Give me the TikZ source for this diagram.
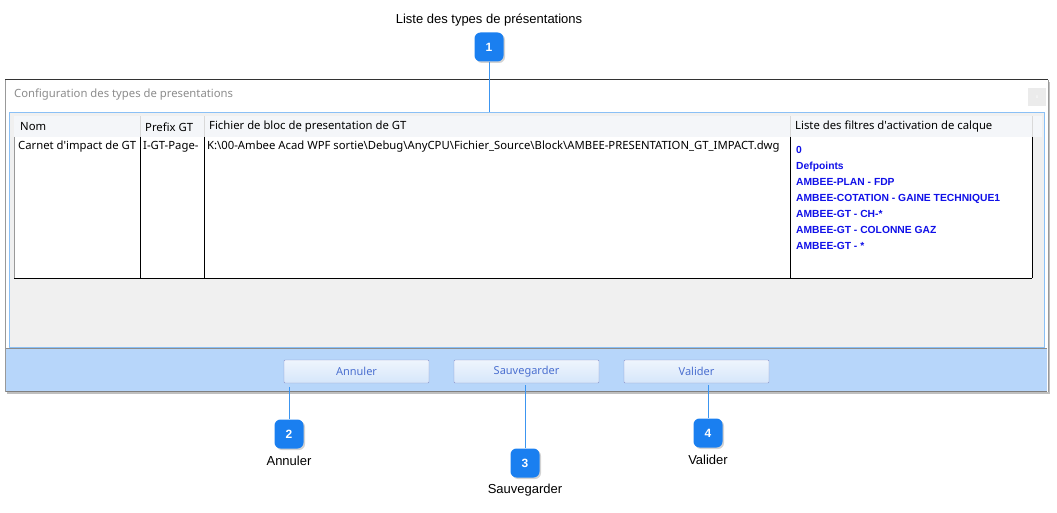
\documentclass[tikz,border=0pt]{standalone}
\usepackage{fontspec}
\setmainfont{Liberation Sans}
\newfontfamily\ui{Noto Sans}
\usetikzlibrary{shadows}
\definecolor{badge}{HTML}{1A7FF0}
\definecolor{bar}{HTML}{B7D6FA}
\definecolor{leader}{HTML}{3C95F0}
\definecolor{gridbg}{HTML}{F0F0F0}
\definecolor{hdr}{HTML}{F4F6F9}
\definecolor{btn}{HTML}{D6E6FA}
\definecolor{btntext}{HTML}{4A6FD0}
\definecolor{filt}{HTML}{1010E8}
\tikzset{
  badge/.style={fill=badge, rounded corners=6pt, minimum width=29pt, minimum height=29pt, text=white, font=\bfseries\fontsize{12}{12}\selectfont, drop shadow={shadow xshift=1.5pt, shadow yshift=-1.5pt, opacity=.35}},
  lab/.style={font=\fontsize{13}{15}\selectfont},
  lead/.style={draw=leader, line width=0.9pt},
  uit/.style={font=\ui\fontsize{11.3}{13}\selectfont, anchor=west, inner sep=0},
  button/.style={draw=btn!70!blue!60!gray, top color=btn!40!white, bottom color=btn, rounded corners=1pt, minimum width=145pt, minimum height=23pt, text=btntext, font=\ui\fontsize{11}{12}\selectfont},
}
\begin{document}
\begin{tikzpicture}[x=1pt,y=-1pt]
\useasboundingbox (0,0) rectangle (1057,513);
% window
\fill[black!25] (7,82) rectangle (1050,394);
\fill[white] (5,80) rectangle (1048,392);
\draw[black!80, line width=1pt] (5,80) -- (1048,80);
\draw[black!40] (5,80) -- (5,392) (1048,80) -- (1048,392);
\node[uit, text=black!45] (title) at (14,95) {Configuration des types de presentations};
\node[fill=black!8, minimum width=18pt, minimum height=18pt, inner sep=0, text=white, font=\tiny] (close) at (1037,97) {x};
% grid
\fill[gridbg] (9,113) rectangle (1044,347);
\draw[leader!60, line width=1pt] (9,113) rectangle (1044,347);
\fill[hdr] (14,116) rectangle (1042,137);
\fill[white] (14,137) rectangle (1032,278);
\draw[black!15] (140,116) -- (140,137) (204,116) -- (204,137) (790,116) -- (790,137) (1032,116) -- (1032,137);
\draw[black, line width=0.9pt] (140,137) -- (140,278) (204,137) -- (204,278) (790,137) -- (790,278) (1032,137) -- (1032,278) (14,278) -- (1032,278);
\draw[black!40] (14,137) -- (14,278);
\node[uit] (h1) at (20,127) {Nom};
\node[uit] (h2) at (145,127) {Prefix GT};
\node[uit] (h3) at (209,127) {Fichier de bloc de presentation de GT};
\node[uit] (h4) at (795,127) {Liste des filtres d'activation de calque};
\node[uit] (c1) at (18,147) {Carnet d'impact de GT};
\node[uit] (c2) at (143,147) {I-GT-Page-};
\node[uit] (c3) at (207,147) {K:\textbackslash 00-Ambee Acad WPF sortie\textbackslash Debug\textbackslash AnyCPU\textbackslash Fichier\_Source\textbackslash Block\textbackslash AMBEE-PRESENTATION\_GT\_IMPACT.dwg};
\node[uit, text=filt, font=\bfseries\fontsize{10.3}{16.1}\selectfont, align=left, anchor=north west] (c4) at (796,146) {0\\Defpoints\\AMBEE-PLAN - FDP\\AMBEE-COTATION - GAINE TECHNIQUE1\\AMBEE-GT - CH-*\\AMBEE-GT - COLONNE GAZ\\AMBEE-GT - *};
% bottom bar
\fill[bar] (6,348) rectangle (1047,391);
\draw[black!45] (6,348) -- (1047,348);
\draw[black!50, line width=1pt] (6,391) -- (1047,391);
\node[button] (b1) at (356.5,371.5) {Annuler};
\node[button] (b2) at (526.5,371.5) {Sauvegarder};
\node[button] (b3) at (696.5,371.5) {Valider};
% callouts
\node[lab] (l1) at (489,20) {Liste des types de présentations};
\node[badge] (n1) at (489,47) {1};
\coordinate (t1) at (489,112);
\draw[lead] (n1) -- (t1);
\node[badge] (n2) at (289,434) {2};
\coordinate (t2) at (289,387);
\draw[lead] (n2) -- (t2);
\node[lab] (l2) at (289,461) {Annuler};
\node[badge] (n3) at (525,463) {3};
\coordinate (t3) at (525,385);
\draw[lead] (n3) -- (t3);
\node[lab] (l3) at (525,490) {Sauvegarder};
\node[badge] (n4) at (708,433) {4};
\coordinate (t4) at (708,385);
\draw[lead] (n4) -- (t4);
\node[lab] (l4) at (708,460) {Valider};
\end{tikzpicture}
\end{document}
